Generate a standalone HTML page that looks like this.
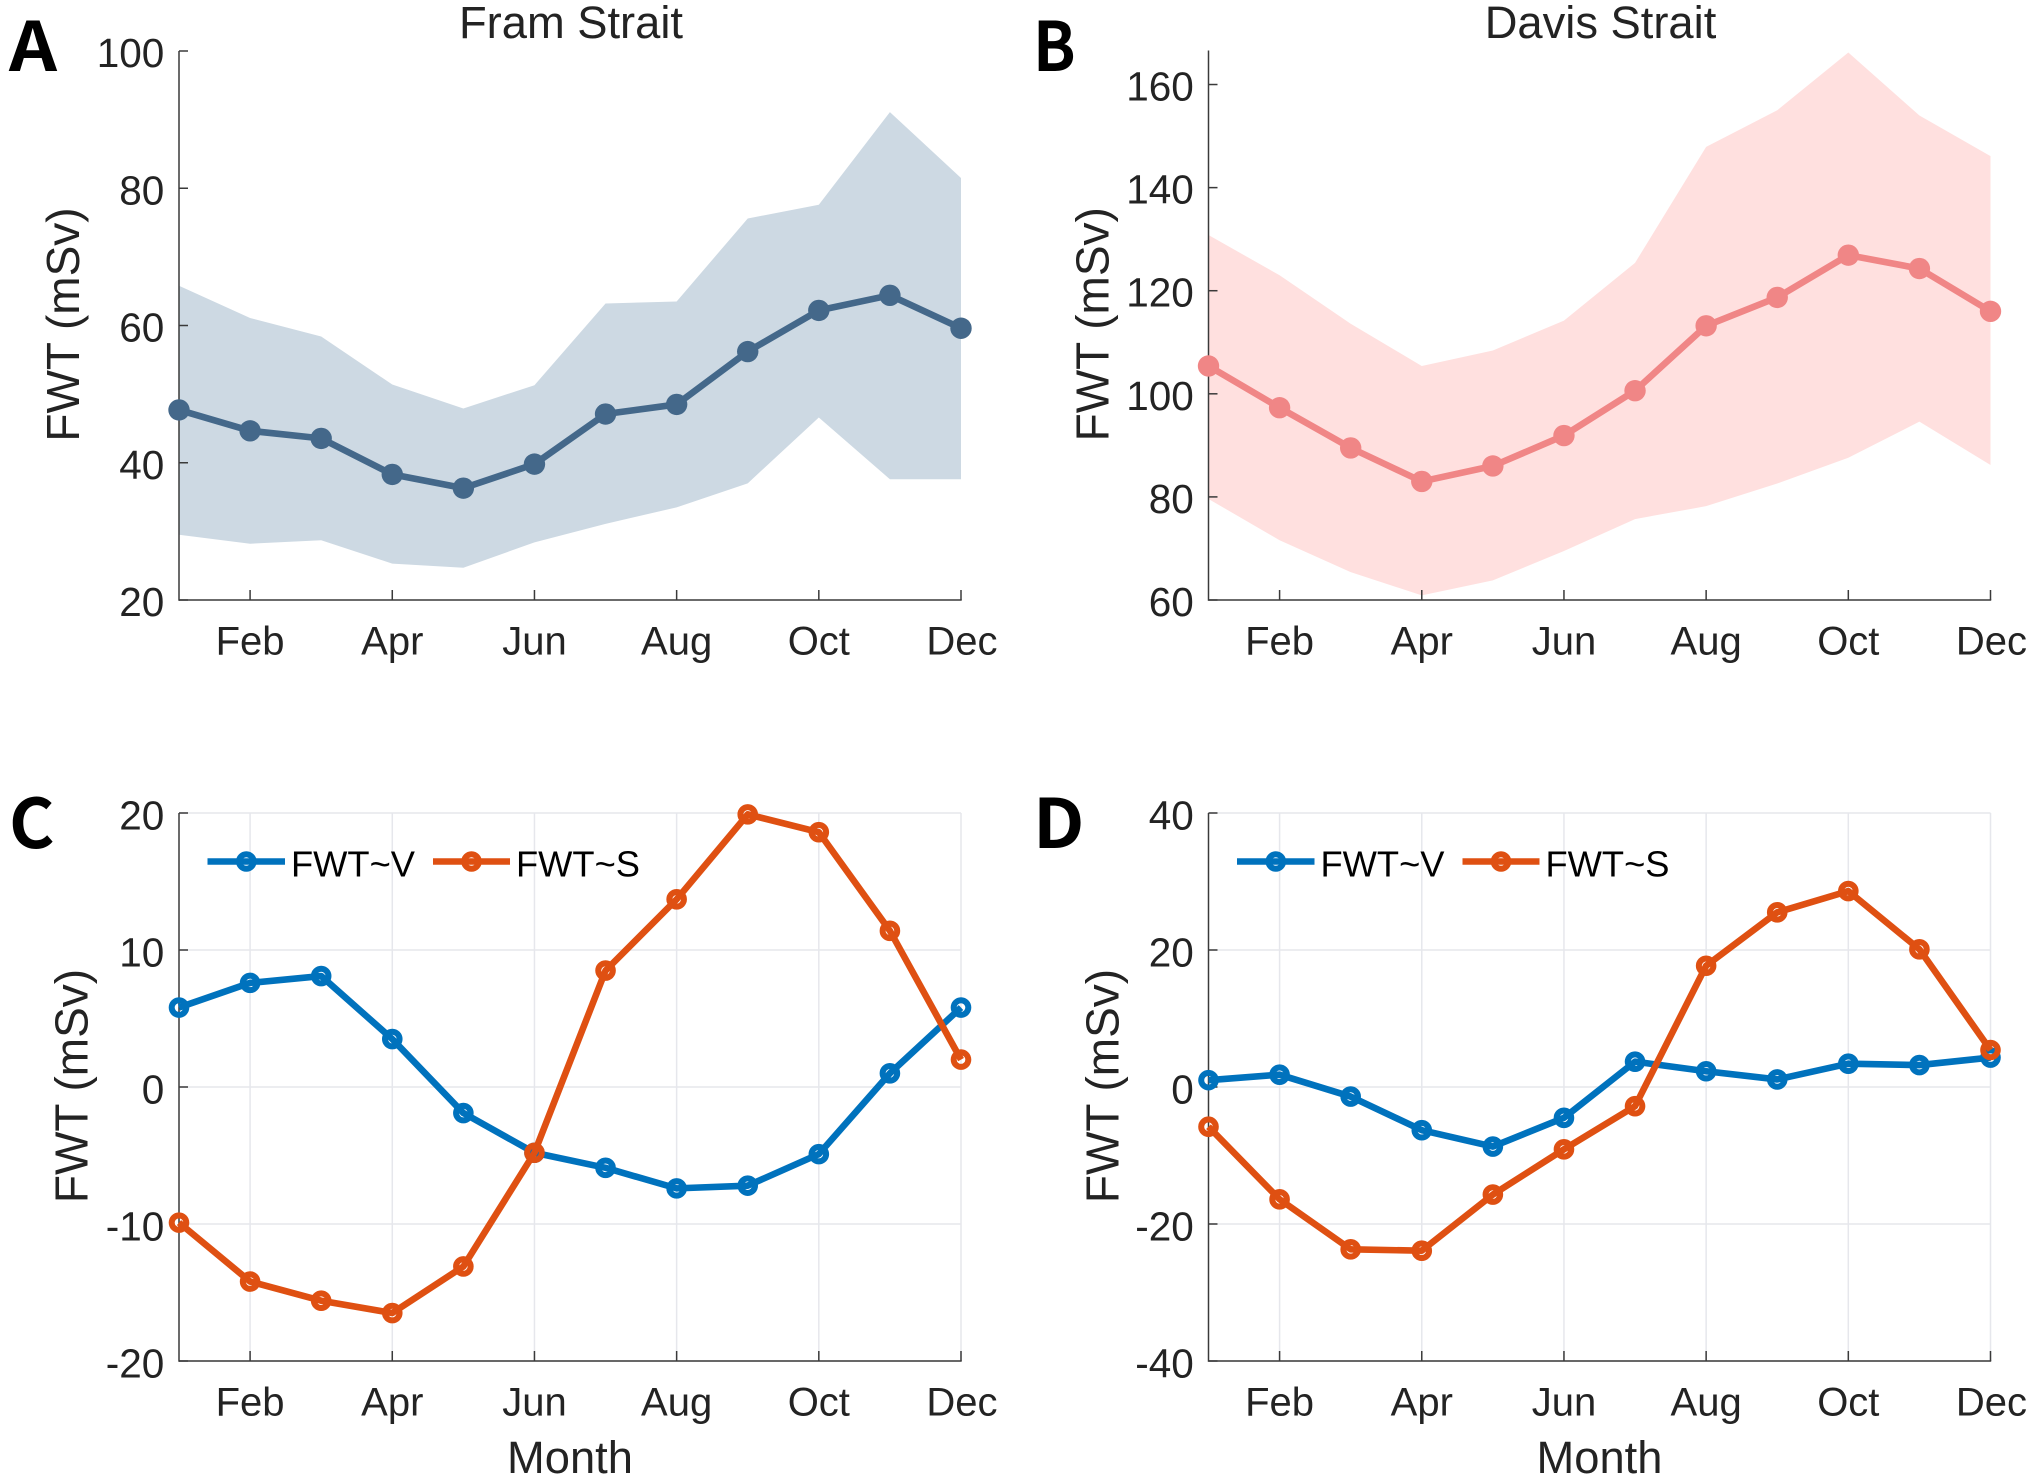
<!DOCTYPE html>
<html lang="en">
<head>
<meta charset="utf-8">
<title>Freshwater transport: Fram Strait and Davis Strait</title>
<style>
html,body{margin:0;padding:0;background:#fff;}
svg{display:block;}
text{font-family:"Liberation Sans",Arial,sans-serif;fill:#232323;}
.letter{font-family:"Noto Sans CJK SC","Liberation Sans",sans-serif;font-weight:700;font-size:68px;fill:#000;}
</style>
</head>
<body>
<svg id="figure" xmlns="http://www.w3.org/2000/svg" width="2038" height="1478" viewBox="0 0 2038 1478"></svg>
<script>
// ---- Data ----
const months = ['Jan','Feb','Mar','Apr','May','Jun','Jul','Aug','Sep','Oct','Nov','Dec'];
const monthTickLabels = ['Feb','Apr','Jun','Aug','Oct','Dec'];

const framMean  = [47.7,44.65,43.55,38.3,36.3,39.8,47.1,48.5,56.2,62.2,64.4,59.6];
const framUpper = [65.8,61.1,58.4,51.4,47.9,51.3,63.2,63.5,75.6,77.6,91.1,81.5];
const framLower = [29.5,28.2,28.7,25.3,24.7,28.4,31.1,33.5,37.0,46.6,37.6,37.6];
const framTicks = [20,40,60,80,100];

const davisMean  = [105.4,97.3,89.5,83.0,86.0,91.9,100.6,113.2,118.7,126.9,124.3,116.0];
const davisUpper = [130.8,123.0,113.6,105.4,108.4,114.2,125.4,147.9,155.0,166.2,154.0,146.1];
const davisLower = [79.6,71.6,65.4,60.9,63.8,69.5,75.7,78.2,82.6,87.6,94.6,86.2];
const davisTicks = [60,80,100,120,140,160];

const framV = [5.8,7.6,8.1,3.5,-1.9,-4.8,-5.9,-7.4,-7.2,-4.9,1.0,5.8];
const framS = [-9.9,-14.2,-15.6,-16.5,-13.1,-4.8,8.5,13.7,19.9,18.6,11.4,2.0];
const framDecompTicks = [-20,-10,0,10,20];

const davisV = [1.0,1.8,-1.4,-6.3,-8.7,-4.5,3.7,2.3,1.1,3.4,3.2,4.3];
const davisS = [-5.8,-16.4,-23.7,-23.9,-15.7,-9.1,-2.8,17.7,25.5,28.6,20.1,5.4];
const davisDecompTicks = [-40,-20,0,20,40];

// ---- Helpers ----
const NS = 'http://www.w3.org/2000/svg';
const fig = document.getElementById('figure');
function mk(tag, attrs, parent, txt) {
  const e = document.createElementNS(NS, tag);
  for (const k in attrs) e.setAttribute(k, attrs[k]);
  if (txt !== undefined) e.textContent = txt;
  parent.appendChild(e);
  return e;
}
function scaleLinear(d0, d1, r0, r1) {
  return v => r0 + (v - d0) * (r1 - r0) / (d1 - d0);
}
const BLUE = '#0072bd', ORANGE = '#df5012', AXIS = '#3a3a3a', GRID = '#e6e7ec';
const LINE_W = 6.6, MARK_R = 7.3, MARK_W = 6;

function makePanel(cfg) {
  const g = mk('g', {}, fig);
  
  
  const xs = scaleLinear(0, months.length - 1, cfg.left, cfg.left + 782);
  const ys = scaleLinear(cfg.ymin, cfg.ymax, cfg.bottom, cfg.top);
  cfg.xs = xs; cfg.ys = ys; cfg.g = g;

  if (cfg.grid) {
    const right = xs(months.length - 1);
    cfg.ticks.forEach(t => {
      const gl = mk('line', {x1: cfg.left, x2: right, y1: ys(t), y2: ys(t), stroke: GRID, 'stroke-width': 1.5}, g);
      
      
    });
    months.forEach((m, i) => {
      if (monthTickLabels.indexOf(m) < 0) return;
      const gl = mk('line', {x1: xs(i), x2: xs(i), y1: cfg.top, y2: cfg.bottom, stroke: GRID, 'stroke-width': 1.5}, g);
      
      
    });
  }

  if (cfg.upper) {
    const upperPts = cfg.upper.map((v, i) => xs(i) + ',' + ys(v));
    const lowerPts = cfg.lower.map((v, i) => xs(i) + ',' + ys(v)).reverse();
    const band = mk('polygon', {points: upperPts.concat(lowerPts).join(' '), fill: cfg.fill}, g);
    
    
  }

  // axes
  const yAxis = mk('line', {x1: cfg.left, x2: cfg.left, y1: cfg.top, y2: cfg.bottom + 0.7, stroke: AXIS, 'stroke-width': 1.5}, g);
  
  
  const xAxis = mk('line', {x1: cfg.left, x2: xs(months.length - 1) + 0.7, y1: cfg.bottom, y2: cfg.bottom, stroke: AXIS, 'stroke-width': 1.5}, g);
  
  

  cfg.ticks.forEach(t => {
    const tk = mk('line', {x1: cfg.left, x2: cfg.left + 9, y1: ys(t), y2: ys(t), stroke: AXIS, 'stroke-width': 1.5}, g);
    
    
    const lb = mk('text', {x: cfg.left - 14.7, y: ys(t) + cfg.labelDy, 'text-anchor': 'end', 'font-size': 40.5}, g, String(t));
    
    
  });
  months.forEach((m, i) => {
    if (monthTickLabels.indexOf(m) < 0) return;
    const tk = mk('line', {x1: xs(i), x2: xs(i), y1: cfg.bottom - 10, y2: cfg.bottom, stroke: AXIS, 'stroke-width': 1.5}, g);
    
    
    const lb = mk('text', {x: xs(i) + (i === 11 ? 1 : 0), y: cfg.bottom + 54.5, 'text-anchor': 'middle', 'font-size': 40}, g, m);
    
    
  });

  const yl = mk('text', {transform: 'translate(' + cfg.ylabelX + ',' + ((cfg.top + cfg.bottom) / 2 - 1) + ') rotate(-90)', 'text-anchor': 'middle', 'font-size': 46}, g, 'FWT (mSv)');
  
  

  const letter = mk('text', {transform: 'translate(' + cfg.letterX + ',' + cfg.letterY + ') scale(' + cfg.letterSx + ',1)', 'class': 'letter'}, g, cfg.letter);
  
  

  if (cfg.title) {
    const ti = mk('text', {x: cfg.left + 392, y: 38, 'text-anchor': 'middle', 'font-size': 45.3}, g, cfg.title);
    
    
  }
  if (cfg.grid) {
    const xt = mk('text', {x: cfg.left + 391, y: 1473, 'text-anchor': 'middle', 'font-size': 45.3}, g, 'Month');
    
    
  }
  return cfg;
}

function drawSeries(cfg, values, color, filled, seriesName) {
  const sg = mk('g', {}, cfg.g);
  
  
  const pts = values.map((v, i) => cfg.xs(i) + ',' + cfg.ys(v)).join(' ');
  const ln = mk('polyline', {points: pts, fill: 'none', stroke: color, 'stroke-width': LINE_W, 'stroke-linejoin': 'round'}, sg);
  
  
  values.forEach((v, i) => {
    const attrs = filled
      ? {cx: cfg.xs(i), cy: cfg.ys(v), r: 10.7, fill: color}
      : {cx: cfg.xs(i), cy: cfg.ys(v), r: MARK_R, fill: 'none', stroke: color, 'stroke-width': MARK_W};
    const pt = mk('circle', attrs, sg);
    
    
  });
}

function drawLegend(cfg, ox) {
  const lg = mk('g', {}, cfg.g);
  
  
  const y = 861.5;

  const l1 = mk('line', {x1: ox + 207.5, x2: ox + 285, y1: y, y2: y, stroke: BLUE, 'stroke-width': LINE_W}, lg);
  
  
  const m1 = mk('circle', {cx: ox + 246.3, cy: y, r: MARK_R, fill: 'none', stroke: BLUE, 'stroke-width': MARK_W}, lg);
  
  
  const t1 = mk('text', {x: ox + 291, y: y + 15, 'font-size': 36.3}, lg, 'FWT~V');
  t1.style.fill = '#000';
  
  

  const l2 = mk('line', {x1: ox + 433, x2: ox + 510, y1: y, y2: y, stroke: ORANGE, 'stroke-width': LINE_W}, lg);
  
  
  const m2 = mk('circle', {cx: ox + 471.5, cy: y, r: MARK_R, fill: 'none', stroke: ORANGE, 'stroke-width': MARK_W}, lg);
  
  
  const t2 = mk('text', {x: ox + 516, y: y + 15, 'font-size': 36.3}, lg, 'FWT~S');
  t2.style.fill = '#000';
  
  
}

// ---- Panels ----
const LEFT_A = 179, LEFT_B = 1208.5;

const panelA = makePanel({name:'panel-a-fram-strait', left:LEFT_A, top:51, bottom:600, ymin:20, ymax:100,
  ticks:framTicks, upper:framUpper, lower:framLower, fill:'#cdd9e3', title:'Fram Strait', labelDy:16,
  letter:'A', letterX:9, letterY:71, letterSx:1.1, ylabelX:79});
drawSeries(panelA, framMean, '#44688a', true, 'fram-mean-series');

const panelB = makePanel({name:'panel-b-davis-strait', left:LEFT_B, top:50.5, bottom:600, ymin:60, ymax:166.6,
  ticks:davisTicks, upper:davisUpper, lower:davisLower, fill:'#ffe0df', title:'Davis Strait', labelDy:16,
  letter:'B', letterX:1033, letterY:71, letterSx:0.92, ylabelX:1108.5});
drawSeries(panelB, davisMean, '#f08686', true, 'davis-mean-series');

const panelC = makePanel({name:'panel-c-fram-decomposition', left:LEFT_A, top:813, bottom:1361, ymin:-20, ymax:20,
  ticks:framDecompTicks, grid:true, labelDy:16.7, letter:'C', letterX:9, letterY:848, letterSx:1.02, ylabelX:87.5});
drawSeries(panelC, framV, BLUE, false, 'fram-fwt-v-series');
drawSeries(panelC, framS, ORANGE, false, 'fram-fwt-s-series');
drawLegend(panelC, 0);

const panelD = makePanel({name:'panel-d-davis-decomposition', left:LEFT_B, top:813, bottom:1361, ymin:-40, ymax:40,
  ticks:davisDecompTicks, grid:true, labelDy:16.7, letter:'D', letterX:1033, letterY:848, letterSx:1.06, ylabelX:1118.5});
drawSeries(panelD, davisV, BLUE, false, 'davis-fwt-v-series');
drawSeries(panelD, davisS, ORANGE, false, 'davis-fwt-s-series');
drawLegend(panelD, 1029.5);
</script>
</body>
</html>
